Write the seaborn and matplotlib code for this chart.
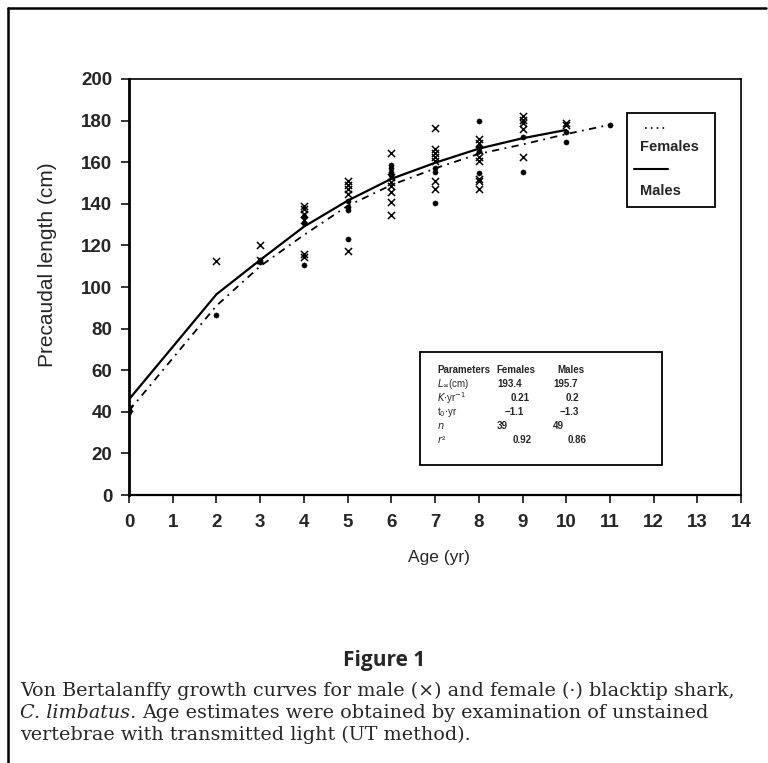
import numpy as np
import pandas as pd
import matplotlib
matplotlib.use("Agg")
import matplotlib.pyplot as plt
import seaborn as sns
from matplotlib.lines import Line2D
from matplotlib.patches import Rectangle

# ---------------- data ----------------
male_age = [0, 2, 3, 3, 4, 4, 4, 4, 4, 4, 5, 5, 5, 5, 5,
            6, 6, 6, 6, 6, 6, 6, 7, 7, 7, 7, 7, 7, 7,
            8, 8, 8, 8, 8, 8, 8, 8, 9, 9, 9, 9, 9, 10, 10]
male_len = [42, 112.5, 120, 113, 139, 137.5, 135, 132, 116, 114.5, 151, 149, 147, 144.5, 117.5,
            164.5, 153, 150.5, 148.5, 145.5, 141, 134.5, 176.5, 166.5, 164.5, 162.5, 160.5, 151, 147,
            171, 169, 166, 162.5, 160.5, 152, 151, 147, 182, 180.5, 179, 176, 162.5, 179, 178]

female_age = [0, 0, 2, 3, 3, 4, 4, 4, 5, 5, 5, 5, 6, 6, 6, 6, 7, 7, 7,
              8, 8, 8, 8, 9, 9, 10, 10, 11]
female_len = [40, 41, 86.5, 112, 113, 134, 131, 110.5, 141.5, 138.5, 137, 123,
              158.5, 157, 155.5, 154, 157, 155.5, 140.5,
              180, 167.5, 165.5, 155, 172, 155.5, 174.5, 169.5, 178]

male_fit_age = [0, 2, 3, 4, 5, 6, 7, 8, 9, 10]
male_fit_len = [46, 96.5, 113, 129, 141.5, 152, 159.7, 166.5, 171.5, 175.5]
female_fit_age = [0, 2, 3, 4, 5, 6, 7, 8, 9, 10, 11]
female_fit_len = [40.5, 91, 110, 125, 139, 149, 157, 164, 168.5, 173.5, 178]

x_ticks = list(range(0, 15))
y_ticks = list(range(0, 201, 20))

param_names = [r"$L_{\infty}$(cm)", r"$K$$\cdot$yr$^{-1}$", r"t$_0$$\cdot$yr", "$n$", "$r$\u00b2"]
param_fem = ["193.4", "0.21", "\u22121.1", "39", "0.92"]
param_male = ["195.7", "0.2", "\u22121.3", "49", "0.86"]

# ---------------- figure ----------------
sns.set_style("ticks")
plt.rcParams["font.family"] = ["Liberation Sans", "DejaVu Sans"]

fig = plt.figure(figsize=(7.68, 7.63), dpi=100)
ax = fig.add_axes([0.168, 0.3512, 0.797, 0.5453])

males = pd.DataFrame({"age": male_age, "len": male_len})
females = pd.DataFrame({"age": female_age, "len": female_len})
mfit = pd.DataFrame({"age": male_fit_age, "len": male_fit_len})
ffit = pd.DataFrame({"age": female_fit_age, "len": female_fit_len})

sns.lineplot(data=mfit, x="age", y="len", ax=ax, color="black", lw=1.6,
             linestyle="-", sort=False)
sns.lineplot(data=ffit, x="age", y="len", ax=ax, color="black", lw=1.3,
             linestyle=(0, (4, 3, 1, 3)), sort=False)
sns.scatterplot(data=males, x="age", y="len", ax=ax, marker="x", color="black",
                s=26, linewidth=1.1, zorder=3)
sns.scatterplot(data=females, x="age", y="len", ax=ax, marker="o", color="black",
                s=14, edgecolor="black", zorder=3)

ax.set_xlim(0, 14)
ax.set_ylim(0, 200)
ax.set_xticks(x_ticks)
ax.set_yticks(y_ticks)
ax.tick_params(axis="both", direction="out", length=6, width=1.3, labelsize=13.5)
ax.tick_params(axis="x", pad=8)
ax.tick_params(axis="y", pad=6)
for lab in ax.get_xticklabels() + ax.get_yticklabels():
    lab.set_fontweight("bold")
for sp in ax.spines.values():
    sp.set_visible(True)
    sp.set_linewidth(1.2)
    sp.set_color("black")
ax.spines["left"].set_linewidth(2)
ax.spines["bottom"].set_linewidth(1.6)
ax.set_xlabel("Age (yr)", fontsize=12.5)
ax.set_ylabel("Precaudal length (cm)", fontsize=15)
ax.xaxis.set_label_coords(0.506, -0.132)
ax.yaxis.set_label_coords(-0.118, 0.553)

# legend box (handles above labels)
ax.add_patch(Rectangle((0.814, 0.692), 0.143, 0.226, transform=ax.transAxes,
                       fill=False, edgecolor="black", lw=1.3, zorder=4))
ax.add_line(Line2D([0.843, 0.881], [0.882, 0.882], transform=ax.transAxes,
                   color="black", lw=1.2, linestyle=(0, (1, 2.5))))
ax.text(0.835, 0.837, "Females", transform=ax.transAxes, fontsize=10.5,
        fontweight="bold", va="center", ha="left")
ax.add_line(Line2D([0.825, 0.881], [0.784, 0.784], transform=ax.transAxes,
                   color="black", lw=1.5))
ax.text(0.835, 0.731, "Males", transform=ax.transAxes, fontsize=10.5,
        fontweight="bold", va="center", ha="left")

# parameter table
ax.add_patch(Rectangle((0.475, 0.072), 0.396, 0.272, transform=ax.transAxes,
                       fill=False, edgecolor="black", lw=1.3, zorder=4))
ty = 0.30
tfs = 7
ax.text(0.503, ty, "Parameters", transform=ax.transAxes, fontsize=tfs,
        fontweight="bold", va="center")
ax.text(0.600, ty, "Females", transform=ax.transAxes, fontsize=tfs,
        fontweight="bold", va="center")
ax.text(0.700, ty, "Males", transform=ax.transAxes, fontsize=tfs,
        fontweight="bold", va="center")
fem_x = [0.601, 0.624, 0.614, 0.601, 0.626]
male_x = [0.693, 0.714, 0.704, 0.693, 0.717]
row_y = [0.267, 0.233, 0.199, 0.166, 0.133]
for nm, fv, mv, fx, mx, yy in zip(param_names, param_fem, param_male, fem_x, male_x, row_y):
    ax.text(0.503, yy, nm, transform=ax.transAxes, fontsize=tfs, va="center")
    ax.text(fx, yy, fv, transform=ax.transAxes, fontsize=tfs, fontweight="bold", va="center")
    ax.text(mx, yy, mv, transform=ax.transAxes, fontsize=tfs, fontweight="bold", va="center")

# outer frame (left and top edges)
fig.add_artist(Line2D([0.011, 0.011], [0.0, 0.989], transform=fig.transFigure,
                      color="black", lw=1.8))
fig.add_artist(Line2D([0.011, 0.998], [0.989, 0.989], transform=fig.transFigure,
                      color="black", lw=1.8))

# caption
fig.text(0.5, 0.134, "Figure 1", ha="center", va="center", fontsize=15,
         fontweight="bold", family=["Open Sans", "DejaVu Sans"])
cap_font = ["DejaVu Serif"]
cfs = 13.8
fig.text(0.026, 0.094, "Von Bertalanffy growth curves for male (\u00d7) and female (\u00b7) blacktip shark,",
         ha="left", va="center", fontsize=cfs, family=cap_font)
t1 = fig.text(0.026, 0.065, "C. limbatus.", ha="left", va="center", fontsize=cfs,
              family=cap_font, style="italic")
ax.annotate("Age estimates were obtained by examination of unstained",
            xy=(1, 0), xycoords=t1, xytext=(4, 0), textcoords="offset points",
            ha="left", va="bottom", fontsize=cfs, family=cap_font, annotation_clip=False)
fig.text(0.026, 0.037, "vertebrae with transmitted light (UT method).",
         ha="left", va="center", fontsize=cfs, family=cap_font)

fig.savefig("out.png", dpi=100)
